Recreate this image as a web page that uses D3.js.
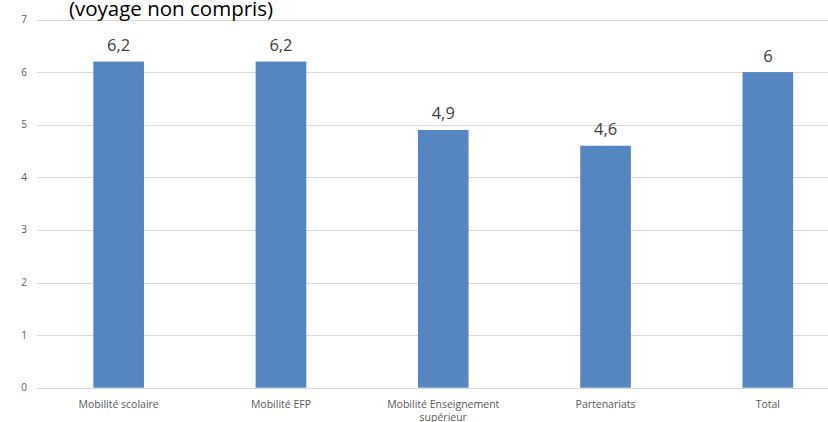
<!DOCTYPE html>
<html><head><meta charset="utf-8">
<script src="https://cdn.jsdelivr.net/npm/d3@7"></script>
<style>body{margin:0;background:#fff;overflow:hidden}svg{display:block}</style>
</head><body>
<svg id="c" width="828" height="422"></svg>
<script>
const categories = ["Mobilité scolaire", "Mobilité EFP", "Mobilité Enseignement supérieur", "Partenariats", "Total"];
const values = [6.2, 6.2, 4.9, 4.6, 6];
const valueLabels = ["6,2", "6,2", "4,9", "4,6", "6"];
const yTicks = [0, 1, 2, 3, 4, 5, 6, 7];
const titleText = "(voyage non compris)";

const svg = d3.select("#c");
const FONT = "'Open Sans', 'Liberation Sans', sans-serif";
const x = d3.scaleBand().domain(categories).range([37.5, 849]).paddingInner(0.688).paddingOuter(0.344);
const y = d3.scaleLinear().domain([0, 7]).range([387.7, 19.5]);

// gridlines
svg.append("g").selectAll("line").data(yTicks).join("line")
  .attr("x1", 37).attr("x2", 828)
  .attr("y1", d => Math.round(y(d)) + 0.5).attr("y2", d => Math.round(y(d)) + 0.5)
  .attr("stroke", "#d9d9d9").attr("stroke-width", 1);

// y tick labels
svg.append("g").selectAll("text").data(yTicks).join("text")
  .attr("x", 27).attr("y", d => y(d)).attr("dy", "0.35em")
  .attr("text-anchor", "end").attr("font-family", FONT).attr("font-size", 10)
  .attr("fill", "#595959").text(d => d);

// bars
svg.append("g").selectAll("rect").data(values).join("rect")
  .attr("x", (d, i) => x(categories[i])).attr("width", x.bandwidth())
  .attr("y", d => y(d)).attr("height", d => y(0) - y(d))
  .attr("fill", "#5686c1");

// value labels
svg.append("g").selectAll("text").data(values).join("text")
  .attr("x", (d, i) => x(categories[i]) + x.bandwidth() / 2)
  .attr("y", d => y(d) - 10.5)
  .attr("text-anchor", "middle").attr("font-family", FONT).attr("font-size", 16.5)
  .attr("fill", "#404040").text((d, i) => valueLabels[i]);

// category labels (wrap)
const wrapMap = {"Mobilité Enseignement supérieur": ["Mobilité Enseignement", "supérieur"]};
const cg = svg.append("g");
categories.forEach(c => {
  const lines = wrapMap[c] || [c];
  const t = cg.append("text").attr("text-anchor", "middle").attr("font-family", FONT)
    .attr("font-size", 10.5).attr("fill", "#595959");
  lines.forEach((l, j) => t.append("tspan").attr("x", x(c) + x.bandwidth() / 2).attr("y", 407.5 + j * 13).text(l));
});

// title (cropped at top, as in the reference)
svg.append("text").attr("x", 171).attr("y", 15.5).attr("text-anchor", "middle")
  .attr("font-family", FONT).attr("font-size", 20.5).attr("fill", "#000")
  .text(titleText);
</script>
</body></html>
